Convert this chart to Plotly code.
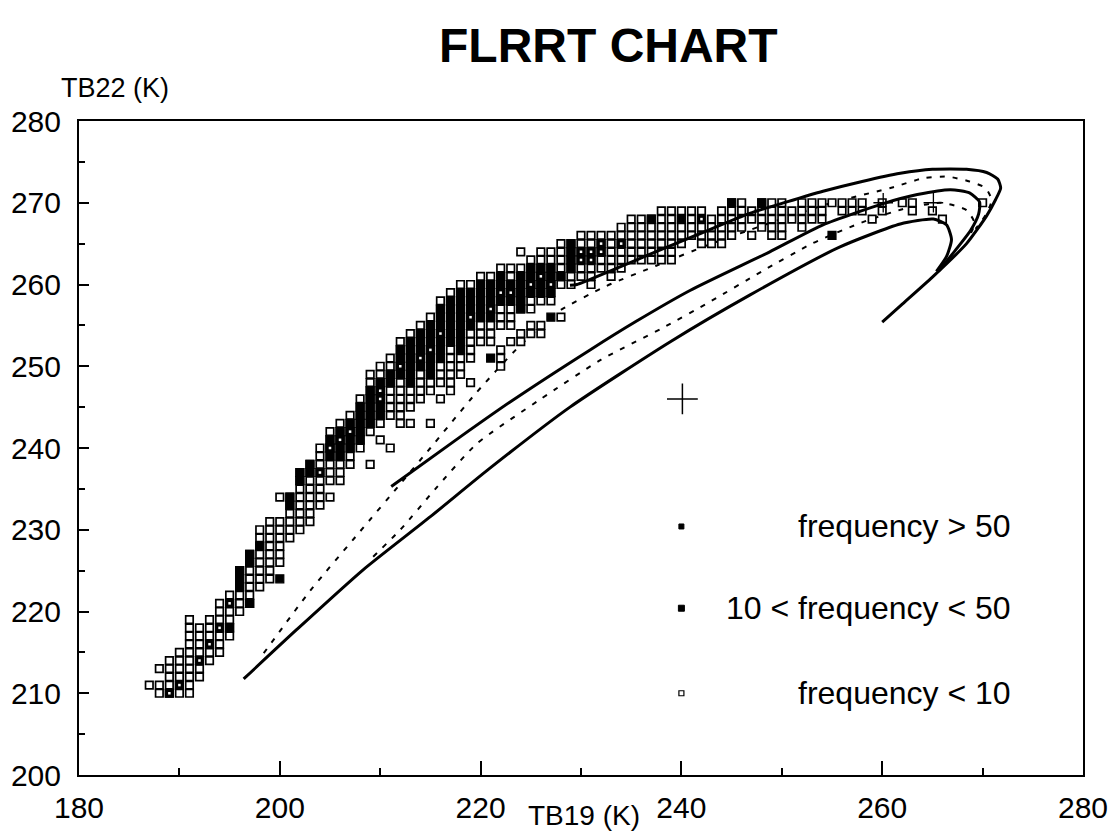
import plotly.graph_objects as go

# ---------------- data ----------------
# open squares (frequency < 10): for each TB19 column, the TB22 span (1 K bins)
col_x = [187, 188, 189, 190, 191, 192, 193, 194, 195, 196,
         197, 198, 199, 200, 201, 202, 203, 204, 205, 206,
         207, 208, 209, 210, 211, 212, 213, 214, 215, 216,
         217, 218, 219, 220, 221, 222, 223, 224, 225, 226,
         227, 228, 229, 230, 231, 232, 233, 234, 235, 236,
         237, 238, 239, 240, 241, 242, 243, 244, 245, 246,
         247, 248, 249, 250, 251, 252, 253, 254, 255, 256,
         257, 258, 259, 260, 262, 263, 265, 266, 270]
col_lo = [211, 210, 210, 210, 210, 212, 214, 215, 217, 220,
          221, 223, 224, 226, 229, 230, 231, 233, 236, 236,
          238, 240, 242, 243, 244, 243, 245, 246, 247, 248,
          247, 249, 251, 253, 253, 255, 255, 257, 257, 258,
          258, 260, 260, 261, 260, 262, 261, 262, 263, 263,
          263, 263, 263, 265, 266, 265, 265, 265, 266, 267,
          268, 267, 266, 266, 268, 267, 268, 268, 270, 269,
          269, 269, 268, 269, 270, 269, 269, 268, 270]
col_hi = [211, 211, 214, 215, 219, 218, 219, 221, 222, 225,
          227, 230, 231, 231, 234, 237, 238, 240, 242, 243,
          244, 246, 249, 250, 251, 253, 254, 255, 256, 258,
          259, 260, 260, 261, 261, 262, 262, 262, 263, 264,
          264, 265, 265, 266, 266, 266, 266, 267, 268, 268,
          268, 269, 269, 269, 269, 269, 268, 269, 270, 270,
          269, 270, 270, 270, 269, 270, 270, 270, 270, 270,
          270, 270, 268, 270, 270, 270, 269, 268, 270]
# isolated open squares
extra_x = [188, 200, 205, 209, 210, 211, 213, 215, 216, 219, 222, 222,
           222, 223, 224, 224, 224, 225, 225, 226, 226, 228, 247]
extra_y = [213, 234, 234, 238, 241, 240, 243, 243, 246, 248, 252, 251,
           250, 253, 264, 254, 253, 255, 254, 255, 254, 256, 266]

# frequency > 50 (black squares), spans per column
dense_x = [195, 196, 197, 197, 198, 200, 201, 202, 203, 205,
           206, 207, 208, 209, 210, 211, 212, 213, 214, 215,
           216, 217, 218, 219, 220, 221, 221, 222, 223, 224,
           225, 226, 227, 227, 228, 229, 237, 240, 245, 248, 255]
dense_lo = [218, 223, 226, 221, 228, 224, 233, 236, 237, 239,
            239, 240, 241, 243, 244, 248, 249, 248, 250, 249,
            251, 253, 252, 255, 256, 256, 251, 258, 258, 257,
            259, 259, 259, 256, 261, 262, 268, 268, 270, 270, 266]
dense_hi = [218, 225, 227, 221, 228, 224, 234, 237, 238, 241,
            242, 243, 245, 247, 248, 249, 252, 253, 254, 255,
            257, 258, 259, 259, 260, 260, 251, 261, 260, 261,
            262, 262, 262, 256, 261, 265, 268, 268, 270, 270, 266]

# 10 < frequency < 50
med_x = [189, 190, 192, 193, 194, 195, 204, 205, 206, 207,
         210, 210, 212, 214, 215, 216, 219, 221, 222, 223,
         225, 226, 227, 230, 230, 231, 231, 232, 232, 234, 242]
med_y = [210, 211, 214, 216, 218, 221, 237, 240, 241, 242,
         246, 247, 250, 251, 252, 254, 256, 257, 259, 259,
         260, 261, 260, 263, 264, 263, 264, 264, 265, 265, 268]

# model curves (solid)
c1_x = [228.9, 229.6, 233.0, 238.2, 242.0, 246.8, 250.5, 254.1, 258.0, 261.8,
        265.0, 268.4, 270.4, 271.5, 271.8, 271.3, 270.4, 268.4, 265.0, 262.0, 260.0]
c1_y = [259.9, 260.0, 261.7, 264.4, 266.3, 268.7, 270.1, 271.4, 272.6, 273.6,
        274.1, 274.1, 273.7, 272.9, 271.8, 270.4, 268.4, 265.0, 260.9, 257.6, 255.4]
c2_x = [211.1, 217.9, 222.9, 230.9, 235.5, 240.9, 248.8, 254.1, 260.1, 263.5,
        266.8, 268.7, 269.7, 269.6, 268.8, 267.3, 265.6]
c2_y = [235.3, 241.3, 245.6, 252.0, 255.5, 259.3, 264.0, 267.3, 269.9, 271.0,
        271.6, 271.2, 270.1, 268.6, 266.6, 264.2, 261.6]
c3_x = [196.4, 201.7, 208.3, 215.0, 220.9, 228.9, 238.9, 246.8, 255.8, 261.8,
        265.1, 266.4, 266.9, 266.4, 265.4]
c3_y = [211.75, 217.8, 225.1, 231.6, 237.5, 245.0, 253.0, 258.7, 264.6, 267.4,
        268.0, 267.3, 265.5, 263.4, 261.6]
# model curves (dashed)
d1_x = [198.4, 203.0, 208.0, 212.0, 215.0, 219.6, 223.5, 227.5, 232.5, 237.5,
        243.0, 249.0, 255.0, 261.1, 264.1, 266.5, 268.7, 270.3, 270.9, 270.3, 269.3]
d1_y = [214.9, 222.5, 229.8, 235.6, 240.0, 246.8, 252.0, 256.5, 259.8, 262.3,
        265.0, 267.6, 270.0, 271.9, 273.0, 273.2, 272.6, 271.8, 270.3, 268.5, 266.8]
d2_x = [209.3, 212.0, 215.5, 219.6, 226.0, 232.0, 238.0, 243.0, 248.0, 253.0,
        258.0, 262.0, 265.8, 268.4, 269.2, 268.5]
d2_y = [226.7, 230.0, 235.0, 240.5, 246.0, 250.8, 254.6, 258.0, 261.6, 265.0,
        267.6, 269.2, 270.0, 269.1, 267.5, 265.5]

# reference crosses
cross_x = [240.1]
cross_y = [246.0]
small_cross_x = [260.1, 265.1]
small_cross_y = [270.0, 270.0]

# legend
legend_labels = ["frequency > 50", "10 < frequency < 50", "frequency < 10"]
legend_y = [230.4, 220.4, 210.0]
legend_marker_x = 240.0
legend_text_x = 273.0

x_ticks = [180, 200, 220, 240, 260, 280]
y_ticks = [200, 210, 220, 230, 240, 250, 260, 270, 280]

# ---------------- build points ----------------
ox, oy = [], []
for x, lo, hi in zip(col_x, col_lo, col_hi):
    for y in range(lo, hi + 1):
        ox.append(x)
        oy.append(y)
ox += extra_x
oy += extra_y

dx, dy = [], []
for x, lo, hi in zip(dense_x, dense_lo, dense_hi):
    for y in range(lo, hi + 1):
        dx.append(x)
        dy.append(y)

FONT = "Liberation Sans, Arial, Helvetica, sans-serif"
fig = go.Figure()

# dashed curves first (they pass behind the squares)
for cx, cy in [(d1_x, d1_y), (d2_x, d2_y)]:
    fig.add_trace(go.Scatter(
        x=cx, y=cy, mode="lines", hoverinfo="skip", showlegend=False,
        line=dict(color="black", width=2, dash="5px,8px",
                  shape="spline", smoothing=0.6)))

fig.add_trace(go.Scatter(
    x=ox, y=oy, mode="markers", hoverinfo="skip", showlegend=False,
    marker=dict(symbol="square", size=7.5, color="white",
                line=dict(color="black", width=1.7))))
fig.add_trace(go.Scatter(
    x=dx, y=dy, mode="markers", hoverinfo="skip", showlegend=False,
    marker=dict(symbol="square", size=8, color="black",
                line=dict(color="black", width=1.2))))
fig.add_trace(go.Scatter(
    x=med_x, y=med_y, mode="markers", hoverinfo="skip", showlegend=False,
    marker=dict(symbol="square", size=8, color="black",
                line=dict(color="black", width=1.2))))
fig.add_trace(go.Scatter(
    x=med_x, y=med_y, mode="markers", hoverinfo="skip", showlegend=False,
    marker=dict(symbol="square", size=2.5, color="white",
                line=dict(width=0))))

for cx, cy in [(c1_x, c1_y), (c2_x, c2_y), (c3_x, c3_y)]:
    fig.add_trace(go.Scatter(
        x=cx, y=cy, mode="lines", hoverinfo="skip", showlegend=False,
        line=dict(color="black", width=3, shape="spline", smoothing=0.6)))

fig.add_trace(go.Scatter(
    x=cross_x, y=cross_y, mode="markers", hoverinfo="skip", showlegend=False,
    marker=dict(symbol="cross-thin", size=22, line=dict(color="black", width=1.5))))
fig.add_trace(go.Scatter(
    x=small_cross_x, y=small_cross_y, mode="markers", hoverinfo="skip", showlegend=False,
    marker=dict(symbol="cross-thin", size=14, line=dict(color="black", width=1.3))))

# legend markers
fig.add_trace(go.Scatter(
    x=[legend_marker_x], y=[legend_y[0]], mode="markers", hoverinfo="skip", showlegend=False,
    marker=dict(symbol="square", size=5, color="black", line=dict(color="black", width=1))))
fig.add_trace(go.Scatter(
    x=[legend_marker_x], y=[legend_y[1]], mode="markers", hoverinfo="skip", showlegend=False,
    marker=dict(symbol="square", size=6, color="black", line=dict(color="black", width=1))))
fig.add_trace(go.Scatter(
    x=[legend_marker_x], y=[legend_y[2]], mode="markers", hoverinfo="skip", showlegend=False,
    marker=dict(symbol="square", size=5, color="white", line=dict(color="black", width=1.2))))

annotations = []
for lab, ly in zip(legend_labels, legend_y):
    annotations.append(dict(x=legend_text_x, y=ly, xref="x", yref="y", text=lab,
                            showarrow=False, xanchor="right", yanchor="middle",
                            font=dict(family=FONT, size=32, color="black")))
annotations.append(dict(x=0.527, y=1.116, xref="paper", yref="paper",
                        text="<b>FLRRT CHART</b>", showarrow=False,
                        xanchor="center", yanchor="middle",
                        font=dict(family=FONT, size=48, color="black")))
annotations.append(dict(x=0.036, y=1.05, xref="paper", yref="paper",
                        text="TB22 (K)", showarrow=False,
                        xanchor="center", yanchor="middle",
                        font=dict(family=FONT, size=27, color="black")))
annotations.append(dict(x=0.503, y=-0.062, xref="paper", yref="paper",
                        text="TB19 (K)", showarrow=False,
                        xanchor="center", yanchor="middle",
                        font=dict(family=FONT, size=28, color="black")))

fig.update_layout(
    width=1115, height=835,
    margin=dict(l=79, r=32, t=121, b=60, pad=0),
    paper_bgcolor="white", plot_bgcolor="white",
    font=dict(family=FONT, color="black"),
    annotations=annotations,
    showlegend=False,
)
fig.update_xaxes(
    range=[180, 280], tickvals=x_ticks, ticks="inside", ticklen=14, tickwidth=1.5,
    tickcolor="black", showline=True, linewidth=2, linecolor="black", mirror=True,
    showgrid=False, zeroline=False, automargin=False,
    tickfont=dict(family=FONT, size=30, color="black"), ticklabelstandoff=5,
    minor=dict(tickvals=[190, 210, 230, 250, 270], ticks="inside", ticklen=7,
               tickwidth=1.5, tickcolor="black", showgrid=False))
fig.update_yaxes(
    range=[200, 280], tickvals=y_ticks, ticks="inside", ticklen=10, tickwidth=1.5,
    tickcolor="black", showline=True, linewidth=2, linecolor="black", mirror=True,
    showgrid=False, zeroline=False, automargin=False,
    tickfont=dict(family=FONT, size=30, color="black"), ticklabelstandoff=10,
    minor=dict(tickvals=[205, 215, 225, 235, 245, 255, 265, 275], ticks="inside",
               ticklen=6, tickwidth=1.5, tickcolor="black", showgrid=False))

fig.write_html("out.html")
